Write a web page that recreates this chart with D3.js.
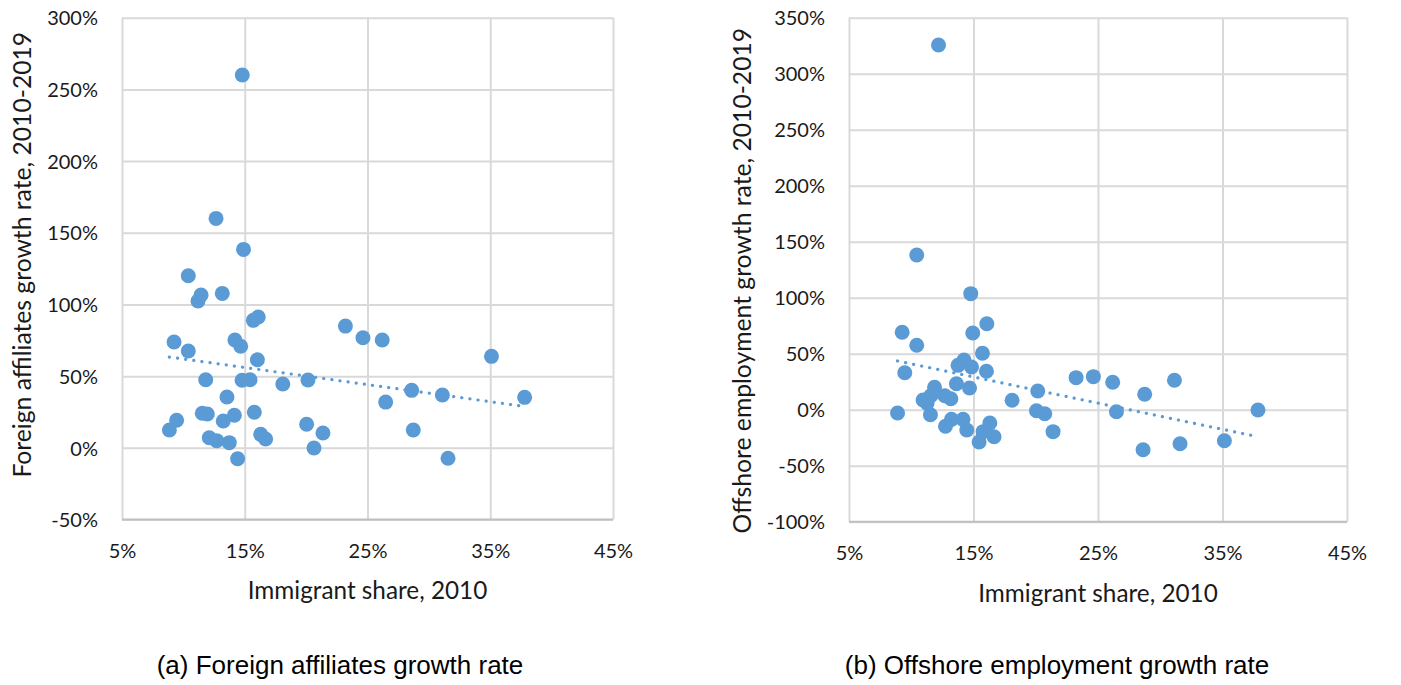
<!DOCTYPE html>
<html>
<head>
<meta charset="utf-8">
<script src="https://cdnjs.cloudflare.com/ajax/libs/d3/7.8.5/d3.min.js"></script>
<style>
  body { margin: 0; background: #fff; }
  .axis text { font-family: Lato, "Open Sans", sans-serif; fill: #1a1a1a; }
  .axis-title { font-family: Lato, "Open Sans", sans-serif; fill: #1a1a1a; }
  .caption { font-family: "Liberation Sans", Arial, sans-serif; font-size: 26px; fill: #000; }
</style>
</head>
<body>
<svg id="chart" width="1401" height="685"></svg>
<script>

// immigrant share 2010 vs. foreign affiliates growth rate 2010-2019 (panel a)
var shareA = [0.148, 0.1266, 0.149, 0.104, 0.1144, 0.1119, 0.1317, 0.161, 0.157, 0.232,
  0.2463, 0.262, 0.351, 0.0924, 0.142, 0.1467, 0.104, 0.1603, 0.1182, 0.1478,
  0.1543, 0.181, 0.2015, 0.286, 0.311, 0.378, 0.2648, 0.1355, 0.1154, 0.1195,
  0.1415, 0.1325, 0.1578, 0.0945, 0.0886, 0.2004, 0.2137, 0.2873, 0.1211, 0.1271,
  0.1374, 0.163, 0.167, 0.2064, 0.1442, 0.3156];
var affiliatesGrowth = [2.60, 1.60, 1.384, 1.20, 1.066, 1.024, 1.077, 0.912, 0.889, 0.849,
  0.768, 0.752, 0.638, 0.738, 0.752, 0.708, 0.675, 0.614, 0.475, 0.471,
  0.475, 0.445, 0.473, 0.401, 0.368, 0.352, 0.319, 0.354, 0.241, 0.236,
  0.227, 0.187, 0.248, 0.192, 0.124, 0.164, 0.103, 0.124, 0.070, 0.050,
  0.036, 0.094, 0.061, -0.001, -0.076, -0.073];

// immigrant share 2010 vs. offshore employment growth rate 2010-2019 (panel b)
var shareB = [0.1219, 0.1044, 0.1478, 0.0927, 0.1044, 0.1607, 0.1494, 0.1572, 0.0948, 0.1424,
  0.1376, 0.1484, 0.1604, 0.1363, 0.1468, 0.1187, 0.1157, 0.1270, 0.1318, 0.1127,
  0.181, 0.2016, 0.2006, 0.2072, 0.2139, 0.2324, 0.2463, 0.2618, 0.2648, 0.2875,
  0.3114, 0.2862, 0.3159, 0.3515, 0.3785, 0.0890, 0.1154, 0.1323, 0.1416, 0.1275,
  0.1446, 0.1631, 0.1577, 0.1545, 0.1665, 0.1095];
var offshoreGrowth = [3.256, 1.381, 1.036, 0.691, 0.575, 0.768, 0.685, 0.504, 0.330, 0.444,
  0.396, 0.381, 0.343, 0.232, 0.194, 0.200, 0.125, 0.125, 0.098, 0.057,
  0.084, 0.167, -0.009, -0.036, -0.196, 0.286, 0.295, 0.245, -0.018, 0.138,
  0.263, -0.357, -0.304, -0.277, -0.003, -0.029, -0.045, -0.086, -0.086, -0.148,
  -0.181, -0.119, -0.196, -0.288, -0.241, 0.087];

// tick values
var xTicks = [0.05, 0.15, 0.25, 0.35, 0.45];
var yTicksA = [-0.5, 0, 0.5, 1.0, 1.5, 2.0, 2.5, 3.0];
var yTicksB = [-1.0, -0.5, 0, 0.5, 1.0, 1.5, 2.0, 2.5, 3.0, 3.5];

var pct = function(d) { return Math.round(d * 100) + "%"; };


/*
 * ScatterChart - Object constructor function
 * @param _svg     -- svg selection to draw in
 * @param _config  -- plot box, ticks and texts
 * @param _x, _y   -- the two value arrays
 */

ScatterChart = function(_svg, _config, _x, _y){
  this.svg = _svg;
  this.config = _config;
  this.xValues = _x;
  this.yValues = _y;
  this.displayData = [];

  this.initVis();
}

ScatterChart.prototype.initVis = function(){
  var vis = this;
  var c = vis.config;

  vis.width = c.width;
  vis.height = c.height;

  vis.g = vis.svg.append("g")
      .attr("transform", "translate(" + c.left + "," + c.top + ")");

  vis.x = d3.scaleLinear()
      .domain([xTicks[0], xTicks[xTicks.length - 1]])
      .range([0, vis.width]);

  vis.y = d3.scaleLinear()
      .domain([c.yTicks[0], c.yTicks[c.yTicks.length - 1]])
      .range([vis.height, 0]);

  vis.xAxis = d3.axisBottom(vis.x)
      .tickValues(xTicks)
      .tickFormat(pct)
      .tickSize(-vis.height)
      .tickPadding(24);

  vis.yAxis = d3.axisLeft(vis.y)
      .tickValues(c.yTicks)
      .tickFormat(pct)
      .tickSize(-vis.width)
      .tickPadding(24);

  vis.g.append("g")
      .attr("class", "x-axis axis")
      .attr("transform", "translate(0," + vis.height + ")");

  vis.g.append("g")
      .attr("class", "y-axis axis");

  // bottom axis line
  vis.g.append("line")
      .attr("x1", 0).attr("x2", vis.width)
      .attr("y1", vis.height).attr("y2", vis.height)
      .attr("stroke", "#bfbfbf")
      .attr("stroke-width", 2);

  // axis titles
  vis.g.append("text")
      .attr("class", "axis-title")
      .attr("text-anchor", "middle")
      .attr("font-size", 24.3)
      .attr("x", vis.width / 2)
      .attr("y", vis.height + 80)
      .text(c.xTitle);

  vis.g.append("text")
      .attr("class", "axis-title")
      .attr("text-anchor", "middle")
      .attr("font-size", 24.7)
      .attr("transform", "translate(" + c.yTitleX + "," + c.yTitleY + ") rotate(-90)")
      .text(c.yTitle);

  // caption under the panel
  vis.svg.append("text")
      .attr("class", "caption")
      .attr("text-anchor", "middle")
      .attr("x", c.captionX)
      .attr("y", 674)
      .text(c.caption);

  vis.wrangleData();
}

ScatterChart.prototype.wrangleData = function(){
  var vis = this;

  vis.displayData = vis.xValues.map(function(d, i) { return { x: d, y: vis.yValues[i] }; });

  // least squares trend line
  var mx = d3.mean(vis.displayData, function(d) { return d.x; });
  var my = d3.mean(vis.displayData, function(d) { return d.y; });
  var sxy = d3.sum(vis.displayData, function(d) { return (d.x - mx) * (d.y - my); });
  var sxx = d3.sum(vis.displayData, function(d) { return (d.x - mx) * (d.x - mx); });
  var slope = sxy / sxx;
  var x0 = d3.min(vis.xValues), x1 = d3.max(vis.xValues);
  vis.trend = [
    { x: x0, y: my + slope * (x0 - mx) },
    { x: x1, y: my + slope * (x1 - mx) }
  ];

  vis.updateVis();
}

ScatterChart.prototype.updateVis = function(){
  var vis = this;

  vis.g.select(".x-axis").call(vis.xAxis);
  vis.g.select(".y-axis").call(vis.yAxis);

  vis.g.selectAll(".axis .domain").remove();
  vis.g.selectAll(".axis line")
      .attr("stroke", "#d9d9d9")
      .attr("stroke-width", 2);
  vis.g.selectAll(".axis text")
      .attr("font-size", 20);
  vis.g.select(".y-axis").selectAll("text").attr("dy", "0.36em");

  vis.g.append("g").selectAll("circle")
      .data(vis.displayData)
      .enter().append("circle")
      .attr("cx", function(d) { return vis.x(d.x); })
      .attr("cy", function(d) { return vis.y(d.y); })
      .attr("r", 7.5)
      .attr("fill", "#5b9bd5");

  var line = d3.line()
      .x(function(d) { return vis.x(d.x); })
      .y(function(d) { return vis.y(d.y); });

  vis.g.append("path")
      .datum(vis.trend)
      .attr("d", line)
      .attr("fill", "none")
      .attr("stroke", "#5b9bd5")
      .attr("stroke-width", 3.2)
      .attr("stroke-linecap", "round")
      .attr("stroke-dasharray", "0.1 8.1");
}


var svg = d3.select("#chart");

var chartA = new ScatterChart(svg, {
  left: 122, top: 17.7, width: 491, height: 501.8,
  yTicks: yTicksA,
  xTitle: "Immigrant share, 2010",
  yTitle: "Foreign affiliates growth rate, 2010-2019",
  yTitleX: -91, yTitleY: 237,
  caption: "(a) Foreign affiliates growth rate",
  captionX: 340
}, shareA, affiliatesGrowth);

var chartB = new ScatterChart(svg, {
  left: 849, top: 17.7, width: 498, height: 504,
  yTicks: yTicksB,
  xTitle: "Immigrant share, 2010",
  yTitle: "Offshore employment growth rate, 2010-2019",
  yTitleX: -98, yTitleY: 263,
  caption: "(b) Offshore employment growth rate",
  captionX: 1057
}, shareB, offshoreGrowth);

</script>
</body>
</html>
